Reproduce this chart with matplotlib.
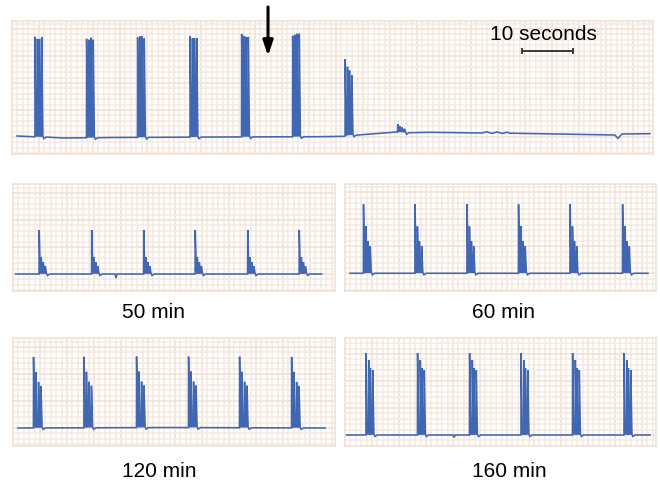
import numpy as np
import matplotlib
matplotlib.use("Agg")
import matplotlib.pyplot as plt
from matplotlib.ticker import MultipleLocator

plt.rcParams['font.family'] = ['Liberation Sans', 'DejaVu Sans']

# ---------------- data (time in s, amplitude in a.u. above baseline) ----------------
# Top trace (before / after drug, arrow = application)
top_base_t = [1.0, 10, 20, 30, 40, 50, 60, 65.0, 67.5, 75.4, 77.5, 82.0, 92.2, 93.1, 94.1,
              95.1, 96.1, 97.1, 97.6, 118.2, 118.8, 119.6, 125.1]
top_base_v = [1.0, -1.0, -0.5, -0.3, 0.0, 0.2, 0.3, 0.7, 2.5, 5.0, 4.0, 4.7, 4.0, 5.2, 3.6,
              5.0, 3.6, 4.8, 3.8, 2.0, -1.3, 3.0, 3.3]
top_onsets = [4.5, 14.6, 24.6, 34.9, 45.0, 55.0, 65.3, 75.6]
top_spike_offsets = [0.0, 0.45, 0.85, 1.3]
top_heights = [
    [100, 98, 98, 100],
    [99, 98, 100, 98],
    [100, 101, 101, 99],
    [101, 99, 99, 99],
    [103, 101, 100, 100],
    [101, 102, 103, 103],
    [77, 69, 65, 60],
    [8, 6, 5, 4],
]
arrow_time = 50.2
scalebar_start, scalebar_len = 100.0, 10.0

# Recovery panels
p50_base_t, p50_base_v = [0.5, 20.0, 20.2, 20.4, 60.5], [0, 0, -4, 0, 0]
p50_onsets = [5.1, 15.4, 25.6, 35.7, 46.0, 56.1]
p50_offsets = [0.0, 0.4, 0.8, 1.2]
p50_heights = [44, 17, 12, 8]

p60_base_t, p60_base_v = [1.0, 59.4], [0, 0]
p60_onsets = [3.6, 13.7, 23.9, 34.0, 44.1, 54.4]
p60_offsets = [0.0, 0.47, 0.86, 1.31]
p60_heights = [69, 47, 32, 27]

p120_base_t, p120_base_v = [1.0, 30.0, 61.2], [0, 0.5, 0]
p120_onsets = [4.0, 13.9, 24.2, 34.4, 44.4, 54.6]
p120_offsets = [0.0, 0.47, 0.98, 1.45]
p120_heights = [71, 56, 46, 42]

p160_base_t, p160_base_v = [0.2, 21.2, 21.4, 21.6, 59.8], [0, 0, -2.5, 0, 0]
p160_onsets = [4.1, 14.2, 24.4, 34.5, 44.6, 54.7]
p160_offsets = [0.0, 0.53, 0.84, 1.31]
p160_heights = [82, 75, 67, 65]

panel_labels = ["50 min", "60 min", "120 min", "160 min"]

TRACE = '#4267B2'
GRID_MINOR = '#F5E9E1'
GRID_MAJOR = '#F1E1D7'
PX_PER_S = 5.1
CELL = 5.4  # grid cell in px


def build_trace(base_t, base_v, onsets, offsets, heights_per_burst, fall=0.25):
    spans = [(t0 - 0.05, t0 + offsets[len(h) - 1] + 0.95) for t0, h in zip(onsets, heights_per_burst)]
    pts = [(t, v) for t, v in zip(base_t, base_v)
           if not any(a <= t <= b for a, b in spans)]
    for t0, hs in zip(onsets, heights_per_burst):
        for k, h in enumerate(hs):
            tk = t0 + offsets[k]
            b = float(np.interp(tk, base_t, base_v))
            pts += [(tk, b + (0 if k == 0 else 1)), (tk + 0.03, b + h), (tk + fall, b + 1)]
        tl = t0 + offsets[len(hs) - 1]
        b = float(np.interp(tl, base_t, base_v))
        pts += [(tl + 0.45, b - 1.5), (tl + 0.9, b)]
    pts.sort()
    return [p[0] for p in pts], [p[1] for p in pts]


def style_grid(ax):
    ax.xaxis.set_minor_locator(MultipleLocator(CELL / PX_PER_S))
    ax.xaxis.set_major_locator(MultipleLocator(5 * CELL / PX_PER_S))
    ax.yaxis.set_minor_locator(MultipleLocator(CELL))
    ax.yaxis.set_major_locator(MultipleLocator(5 * CELL))
    ax.grid(which='minor', color=GRID_MINOR, lw=1.1)
    ax.grid(which='major', color=GRID_MAJOR, lw=1.2)
    ax.set_axisbelow(True)
    ax.tick_params(which='both', length=0, labelbottom=False, labelleft=False)
    for s in ax.spines.values():
        s.set_color(GRID_MAJOR)
        s.set_linewidth(1.2)


W, H = 660, 481
fig = plt.figure(figsize=(W / 100, H / 100), dpi=100)


def add_ax(x0, y0, x1, y1):
    return fig.add_axes([x0 / W, 1 - y1 / H, (x1 - x0) / W, (y1 - y0) / H])


# top panel
ax = add_ax(12, 22, 653, 155)
style_grid(ax)
t, v = build_trace(top_base_t, top_base_v, top_onsets,
                   top_spike_offsets, top_heights)
ax.plot(t, v, color=TRACE, lw=1.15, solid_joinstyle='miter')
ax.set_xlim(0, 641 / PX_PER_S)
ax.set_ylim(-17, 116)
ax.annotate('', xy=(arrow_time, 81), xytext=(arrow_time, 130),
            arrowprops=dict(arrowstyle='-|>,head_width=0.3,head_length=0.9',
                            lw=2.2, color='black', shrinkA=0, shrinkB=0),
            annotation_clip=False)
ax.plot([scalebar_start, scalebar_start + scalebar_len], [86, 86],
        color='#3a3a3a', lw=1.4, marker='|', markersize=5, mew=1.4)
ax.text(104.3, 104, '10 seconds', ha='center', va='center', fontsize=15)

# bottom panels
panels = [
    ((13, 185, 335, 292), (-17, 90), p50_base_t, p50_base_v, p50_onsets, p50_offsets, p50_heights, (153, 312)),
    ((345, 185, 656, 292), (-17.7, 89.3), p60_base_t, p60_base_v, p60_onsets, p60_offsets, p60_heights, (503, 312)),
    ((13, 339, 335, 447), (-18, 90), p120_base_t, p120_base_v, p120_onsets, p120_offsets, p120_heights, (159, 472)),
    ((345, 339, 656, 447), (-11, 97), p160_base_t, p160_base_v, p160_onsets, p160_offsets, p160_heights, (509, 472)),
]
for (box, ylim, bt, bv, ons, offs, hs, lab), name in zip(panels, panel_labels):
    a = add_ax(*box)
    style_grid(a)
    t, v = build_trace(bt, bv, ons, offs, [hs] * len(ons))
    a.plot(t, v, color=TRACE, lw=1.15, solid_joinstyle='miter')
    a.set_xlim(0, (box[2] - box[0]) / PX_PER_S)
    a.set_ylim(*ylim)
    fig.text(lab[0] / W, 1 - lab[1] / H, name, ha='center', va='center', fontsize=15)

fig.savefig('out.png', dpi=100, facecolor='white')
